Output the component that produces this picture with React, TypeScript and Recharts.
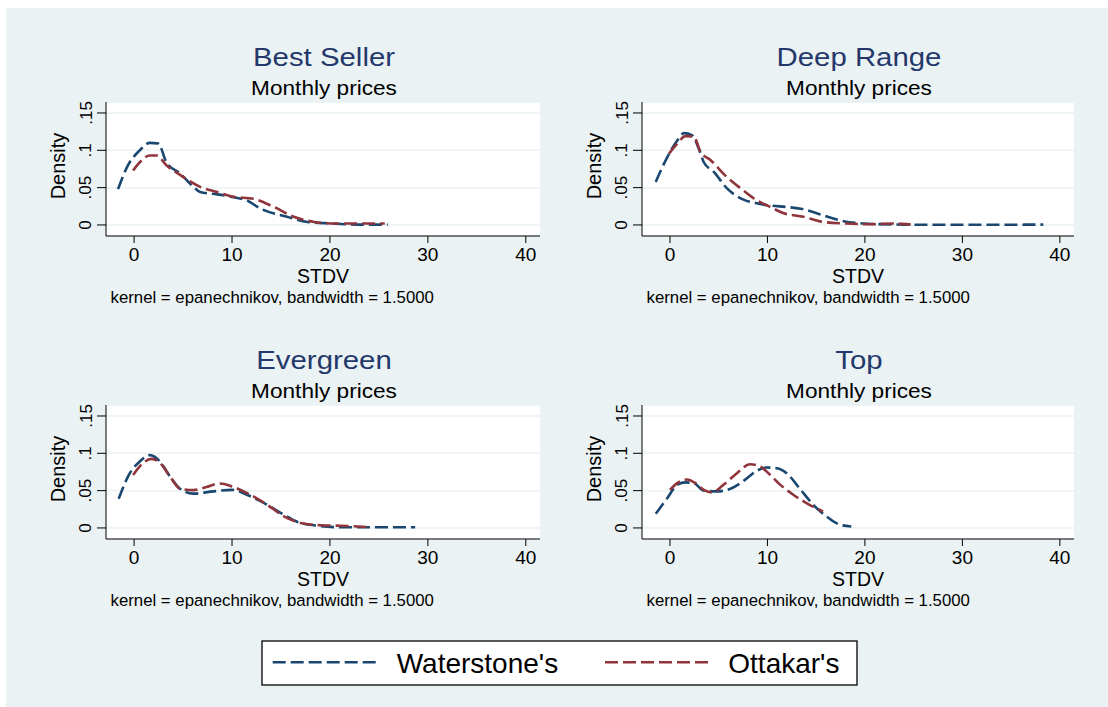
import React from 'react';
import { LineChart, Line, XAxis, YAxis, CartesianGrid } from 'recharts';

const FONT = '"Liberation Sans", Arial, Helvetica, sans-serif';
const BLUE = '#1a476f';
const RED = '#90353b';
const BG = '#eaf2f3';
const TITLE = '#24386b';

const seriesNames = ["Waterstone's", "Ottakar's"];
const panelTitles = ['Best Seller', 'Deep Range', 'Evergreen', 'Top'];
const subtitleText = 'Monthly prices';
const noteText = 'kernel = epanechnikov, bandwidth = 1.5000';
const xLabel = 'STDV';
const yLabel = 'Density';
const xTicks = [0, 10, 20, 30, 40];
const yTicks = [0, 0.05, 0.1, 0.15];

// Best Seller
const bestWX = [-1.64, -0.62, 0.58, 1.6, 2.47, 3.3, 4.7, 6.06, 6.75, 8.5, 10, 11.5, 12.9, 15.6, 17.7, 20.1, 22.8, 25.9];
const bestWY = [0.048, 0.08, 0.1, 0.11, 0.109, 0.084, 0.069, 0.051, 0.044, 0.041, 0.0375, 0.033, 0.022, 0.011, 0.004, 0.002, 0.0005, 0.0005];
const bestOX = [-0.1, 0.58, 1.6, 2.3, 3.3, 4.7, 6.75, 8.5, 10, 12.2, 14.3, 16.3, 18.4, 20.1, 22.5, 25.6];
const bestOY = [0.073, 0.084, 0.093, 0.093, 0.08, 0.067, 0.051, 0.044, 0.038, 0.035, 0.024, 0.011, 0.004, 0.002, 0.002, 0.002];

// Deep Range
const deepWX = [-1.46, -0.27, 0.75, 1.43, 2.28, 2.96, 3.47, 4.5, 5.85, 7.55, 8.9, 10.3, 12, 13.7, 15.7, 17.8, 19.8, 23.9, 27.3, 32, 38.3];
const deepWY = [0.0576, 0.091, 0.113, 0.123, 0.12, 0.102, 0.084, 0.071, 0.049, 0.034, 0.029, 0.026, 0.024, 0.021, 0.013, 0.005, 0.002, 0.0005, 0.0002, 0.0002, 0.0005];
const deepOX = [-0.1, 0.75, 1.6, 2.45, 3.13, 4.15, 5.85, 7.55, 8.9, 10.3, 11.6, 13.7, 15.7, 18.1, 20.5, 22.9, 24.7];
const deepOY = [0.0955, 0.109, 0.119, 0.118, 0.098, 0.087, 0.064, 0.046, 0.033, 0.024, 0.016, 0.011, 0.004, 0.002, 0.001, 0.002, 0.0005];

// Evergreen
const everWX = [-1.58, -0.45, 0.58, 1.6, 2.64, 3.66, 4.7, 6.06, 8.1, 10, 11.5, 12.9, 15, 16.7, 18.7, 21.1, 24.6, 28.7];
const everWY = [0.039, 0.073, 0.089, 0.0975, 0.089, 0.069, 0.0525, 0.046, 0.049, 0.051, 0.0445, 0.036, 0.02, 0.008, 0.003, 0.001, 0.001, 0.001];
const everOX = [-0.1, 0.92, 1.78, 2.64, 3.66, 4.7, 6.06, 7.4, 8.8, 10, 11.5, 13.6, 15.3, 17, 19.1, 21.1, 24.2];
const everOY = [0.071, 0.087, 0.0925, 0.087, 0.069, 0.0525, 0.0507, 0.055, 0.0596, 0.0556, 0.047, 0.031, 0.0156, 0.0067, 0.0036, 0.003, 0.001];

// Top
const topWX = [-1.46, -0.27, 0.75, 1.6, 2.45, 3.47, 4.83, 6.2, 7.55, 8.9, 9.9, 10.95, 12, 13.3, 14.7, 16.05, 17.4, 18.6];
const topWY = [0.019, 0.04, 0.058, 0.061, 0.06, 0.05, 0.049, 0.0525, 0.063, 0.0765, 0.081, 0.08, 0.073, 0.053, 0.031, 0.0156, 0.0045, 0.002];
const topOX = [0, 0.75, 1.77, 2.62, 3.47, 4.3, 5.5, 6.87, 8.2, 9.25, 10.27, 11.3, 12.65, 14, 15.7];
const topOY = [0.051, 0.06, 0.065, 0.06, 0.051, 0.0476, 0.058, 0.0734, 0.0854, 0.0823, 0.0712, 0.058, 0.0445, 0.0334, 0.022];

const zip = (xs: number[], ys: number[]) => xs.map((x, i) => ({ x, y: ys[i] }));

const fmtY = (v: number) => (v === 0 ? '0' : String(v).replace(/^0\./, '.'));

const YW = 66;
const MR = 4;
const MT = 4;
const MB = 8;
const XH = 46;
const PH = 134;
const DASH = '13 5';

const YTick = (props: any) => {
  const { x, y, payload } = props;
  return (
    <text
      x={x}
      y={y}
      transform={`rotate(-90 ${x} ${y})`}
      textAnchor="middle"
      fontSize={17}
      fontFamily={FONT}
      fill="#000"
    >
      {fmtY(payload.value)}
    </text>
  );
};

const densityLabel = () => {
  const bx = YW - 41;
  const cy = MT + PH / 2 - 3;
  return (
    <text
      x={bx}
      y={cy}
      transform={`rotate(-90 ${bx} ${cy})`}
      textAnchor="middle"
      fontSize={20}
      fontFamily={FONT}
      fill="#000"
    >
      {yLabel}
    </text>
  );
};

type PanelProps = {
  plotLeft: number;
  plotTop: number;
  plotWidth: number;
  wx: number[];
  wy: number[];
  ox: number[];
  oy: number[];
};

function Panel({ plotLeft, plotTop, plotWidth, wx, wy, ox, oy }: PanelProps) {
  const width = YW + plotWidth + MR;
  const height = MT + PH + XH + MB;
  return (
    <div style={{ position: 'absolute', left: plotLeft - YW, top: plotTop - MT, width, height }}>
      <LineChart width={width} height={height} margin={{ top: MT, right: MR, bottom: MB, left: 0 }}>
        <CartesianGrid horizontal vertical={false} stroke={BG} strokeWidth={1.5} fill="#ffffff" />
        <XAxis
          dataKey="x"
          type="number"
          domain={[-2.87, 41.45]}
          ticks={xTicks}
          allowDataOverflow
          height={XH}
          tickSize={7}
          tickMargin={5}
          stroke="#000"
          tick={{ fontSize: 19, fill: '#000', fontFamily: FONT }}
          tickLine={{ stroke: '#000' }}
          label={{ value: xLabel, position: 'insideBottom', offset: -0.5, fontSize: 19.5, fill: '#000', fontFamily: FONT }}
        />
        <YAxis
          type="number"
          domain={[-0.0148, 0.1647]}
          ticks={yTicks}
          allowDataOverflow
          width={YW}
          tickSize={9}
          tickMargin={5.5}
          stroke="#000"
          tick={YTick}
          tickLine={{ stroke: '#000' }}
          label={{ content: densityLabel }}
        />
        <Line
          data={zip(wx, wy)}
          dataKey="y"
          name={seriesNames[0]}
          type="monotone"
          stroke={BLUE}
          strokeWidth={2.6}
          strokeDasharray={DASH}
          dot={false}
          activeDot={false}
          isAnimationActive={false}
        />
        <Line
          data={zip(ox, oy)}
          dataKey="y"
          name={seriesNames[1]}
          type="monotone"
          stroke={RED}
          strokeWidth={2.6}
          strokeDasharray={DASH}
          dot={false}
          activeDot={false}
          isAnimationActive={false}
        />
      </LineChart>
    </div>
  );
}

const panelLayout = [
  { plotLeft: 106, plotTop: 102, plotWidth: 434 },
  { plotLeft: 642, plotTop: 102, plotWidth: 432 },
  { plotLeft: 106, plotTop: 405, plotWidth: 434 },
  { plotLeft: 642, plotTop: 405, plotWidth: 432 },
];

const panelData = [
  { wx: bestWX, wy: bestWY, ox: bestOX, oy: bestOY },
  { wx: deepWX, wy: deepWY, ox: deepOX, oy: deepOY },
  { wx: everWX, wy: everWY, ox: everOX, oy: everOY },
  { wx: topWX, wy: topWY, ox: topOX, oy: topOY },
];

export default function App() {
  return (
    <div style={{ position: 'absolute', left: 0, top: 0, width: 1108, height: 707, overflow: 'hidden' }}>
      <div style={{ position: 'absolute', left: 6, top: 8, width: 1102, height: 699, background: BG }} />
      {panelLayout.map((p, i) => (
        <Panel key={i} {...p} {...panelData[i]} />
      ))}
      <svg
        width={1108}
        height={707}
        style={{ position: 'absolute', left: 0, top: 0, pointerEvents: 'none' }}
        fontFamily={FONT}
      >
        {panelLayout.map((p, i) => {
          const cx = p.plotLeft + p.plotWidth / 2 + 1;
          const off = i < 2 ? 0 : 303;
          return (
            <g key={i}>
              <g transform={`translate(${cx} ${66 + off}) scale(1.13 1)`}>
                <text x={0} y={0} textAnchor="middle" fontSize={26} fill={TITLE}>
                  {panelTitles[i]}
                </text>
              </g>
              <g transform={`translate(${cx} ${94.5 + off}) scale(1.16 1)`}>
                <text x={0} y={0} textAnchor="middle" fontSize={19.5} fill="#000">
                  {subtitleText}
                </text>
              </g>
              <text x={p.plotLeft + 4.5} y={303.3 + off} fontSize={16.8} fill="#000">
                {noteText}
              </text>
            </g>
          );
        })}
        <rect x={262} y={641} width={595} height={44} fill="#fff" stroke="#000" strokeWidth={1.3} />
        <line x1={272.7} y1={662.3} x2={380} y2={662.3} stroke={BLUE} strokeWidth={2.6} strokeDasharray={DASH} />
        <text x={396.7} y={673.3} fontSize={28} fill="#000">
          {seriesNames[0]}
        </text>
        <line x1={605} y1={662.3} x2={712.7} y2={662.3} stroke={RED} strokeWidth={2.6} strokeDasharray={DASH} />
        <text x={728.3} y={673.3} fontSize={28} fill="#000">
          {seriesNames[1]}
        </text>
      </svg>
    </div>
  );
}
